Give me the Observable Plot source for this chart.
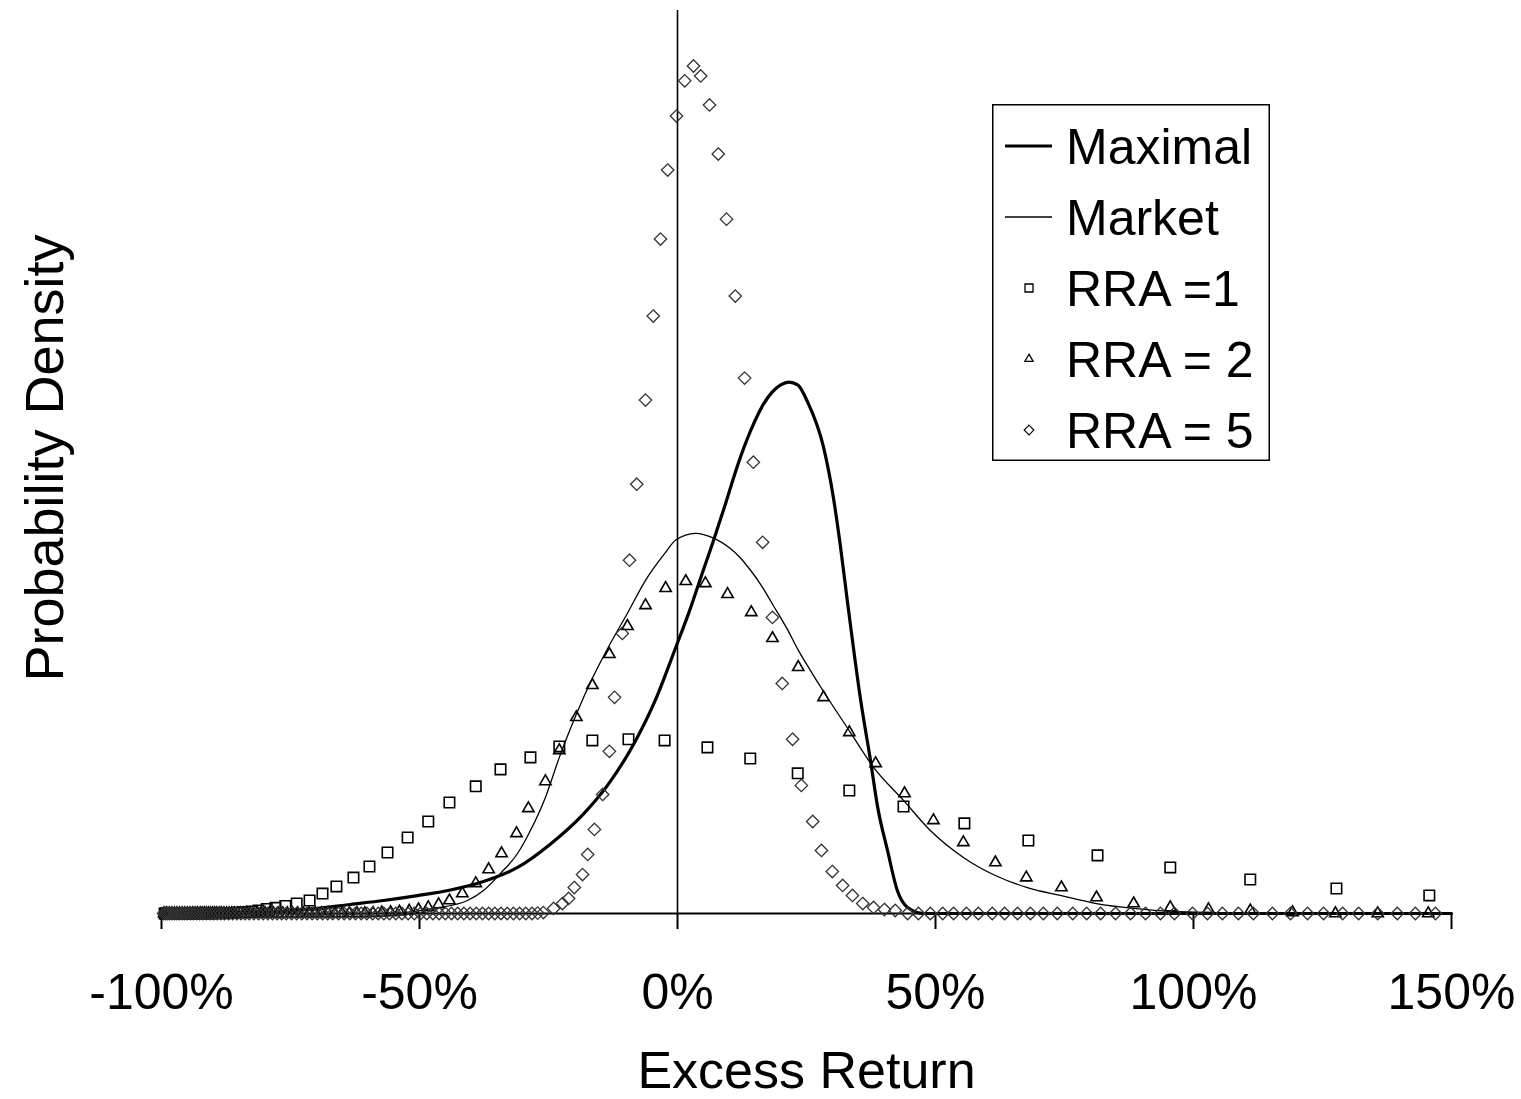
<!DOCTYPE html>
<html>
<head>
<meta charset="utf-8">
<script src="https://cdn.jsdelivr.net/npm/d3@7"></script>
<script src="https://cdn.jsdelivr.net/npm/@observablehq/plot@0.6"></script>
<style>
  html, body { margin: 0; padding: 0; background: #fff; }
  #wrap { position: relative; width: 1521px; height: 1099px; overflow: hidden; }
  #legend { position: absolute; left: 992px; top: 104px; }
</style>
</head>
<body>
<div id="wrap"></div>
<script>
// ---- Data (x = excess return in %, y = probability density) ----
const xTicks = [-100, -50, 0, 50, 100, 150];
const seriesNames = ["Maximal", "Market", "RRA =1", "RRA = 2", "RRA = 5"];
const xLabel = "Excess Return";
const yLabel = "Probability Density";

const maximal = [[-100,0],[-90,0],[-82.8,0.002],[-76.4,0.011],[-69.8,0.027],[-63.4,0.048],[-57.0,0.069],[-50.4,0.095],[-44.0,0.125],[-37.6,0.170],[-31.0,0.245],[-24.6,0.370],[-18.2,0.530],[-13.6,0.680],[-8.5,0.900],[-3.9,1.160],[-0.4,1.410],[2.5,1.622],[4.8,1.809],[7.0,1.984],[8.9,2.144],[12.2,2.426],[14.7,2.600],[16.5,2.700],[18.3,2.770],[20.0,2.810],[21.6,2.825],[23.3,2.810],[25.2,2.720],[28.3,2.479],[30.2,2.213],[31.6,1.947],[32.9,1.665],[35.5,1.133],[37.4,0.814],[38.8,0.564],[40.7,0.335],[42.6,0.122],[44.6,0.032],[47.7,0],[60,0],[100,0],[150,0]];

const market = [[-100,0],[-80,0],[-60,0],[-53.7,0.003],[-47.3,0.027],[-40.7,0.069],[-37.6,0.122],[-34.3,0.213],[-31.0,0.319],[-28.5,0.441],[-25.6,0.617],[-22.9,0.830],[-19.6,1.059],[-16.5,1.250],[-13.2,1.426],[-9.7,1.596],[-6.2,1.771],[-2.3,1.920],[-0.4,1.984],[3.5,2.021],[7.0,1.995],[10.0,1.945],[12.2,1.890],[14.0,1.830],[16.1,1.750],[18.5,1.640],[21.3,1.510],[23.4,1.400],[25.8,1.290],[28.3,1.180],[33.5,0.963],[38.0,0.777],[43.8,0.601],[49.0,0.441],[55.4,0.298],[61.6,0.202],[67.8,0.138],[74.2,0.096],[81.2,0.053],[88.4,0.027],[95.5,0.011],[111,0.002],[130,0],[150,0]];

const rra1 = [[-99.4,0],[-99.2,0],[-99,0],[-98.8,0],[-98.6,0],[-98.4,0],[-98.2,0],[-98,0],[-97.8,0],[-97.6,0],[-97.3,0],[-97,0],[-96.7,0],[-96.4,0],[-96,0],[-95.6,0],[-95.2,0],[-94.8,0],[-94.3,0],[-93.8,0],[-93.2,0],[-92.6,0],[-91.9,0],[-91.2,0],[-90.4,0],[-89.5,0.001],[-88.6,0.001],[-87.6,0.002],[-86.5,0.003],[-85.3,0.005],[-84,0.007],[-82.6,0.011],[-81.2,0.016],[-79.6,0.024],[-77.9,0.030],[-76.0,0.040],[-73.8,0.053],[-71.3,0.069],[-68.8,0.106],[-66.1,0.144],[-62.8,0.191],[-59.7,0.250],[-56.2,0.324],[-52.3,0.404],[-48.3,0.489],[-44.2,0.590],[-39.1,0.676],[-34.3,0.766],[-28.5,0.830],[-22.9,0.888],[-16.5,0.920],[-9.5,0.926],[-2.5,0.920],[5.8,0.883],[14.1,0.824],[23.3,0.745],[33.3,0.654],[43.8,0.569],[55.6,0.479],[68.0,0.388],[81.4,0.309],[95.5,0.245],[111.0,0.181],[127.7,0.133],[145.7,0.096]];

const rra2 = [[-99.5,0],[-99,0],[-98.5,0],[-98,0],[-97.5,0],[-97,0],[-96.5,0],[-96,0],[-95.5,0],[-95,0],[-94.5,0],[-94,0],[-93.5,0],[-93,0],[-92.5,0],[-92.1,0],[-91.7,0],[-91.3,0],[-90.9,0],[-90.5,0],[-90.1,0],[-89.7,0],[-89.3,0],[-88.8,0],[-88.4,0],[-87.9,0],[-87.4,0],[-86.9,0],[-86.4,0],[-85.9,0],[-85.3,0],[-84.7,0],[-84.1,0],[-83.5,0],[-82.8,0],[-82.1,0],[-81.4,0],[-80.7,0],[-79.9,0],[-79.1,0],[-78.3,0],[-77.4,0],[-76.5,0],[-75.6,0],[-74.6,0],[-73.6,0],[-72.5,0],[-71.4,0],[-70.2,0],[-69,0],[-67.7,0],[-66.4,0],[-65,0],[-63.6,0],[-62.1,0],[-60.6,0.001],[-59,0.002],[-57.3,0.004],[-55.6,0.006],[-53.9,0.009],[-52,0.014],[-50.2,0.021],[-48.3,0.032],[-46.3,0.048],[-44.2,0.069],[-41.7,0.106],[-39.1,0.160],[-36.6,0.234],[-34.1,0.319],[-31.2,0.426],[-28.9,0.559],[-25.6,0.702],[-22.9,0.867],[-19.6,1.043],[-16.5,1.213],[-13.2,1.378],[-9.7,1.527],[-6.2,1.638],[-2.3,1.729],[1.6,1.766],[5.4,1.755],[9.7,1.697],[14.3,1.601],[18.4,1.463],[23.4,1.309],[28.3,1.149],[33.3,0.963],[38.4,0.798],[44.0,0.638],[49.6,0.495],[55.4,0.378],[61.6,0.271],[67.6,0.191],[74.4,0.138],[81.2,0.085],[88.4,0.053],[95.5,0.032],[102.9,0.022],[111.0,0.015],[119.2,0.006],[127.5,0],[135.7,0],[145.5,0]];

const rra5 = [[-99.6,0],[-99.2,0],[-98.8,0],[-98.4,0],[-98,0],[-97.5,0],[-97,0],[-96.5,0],[-96,0],[-95.5,0],[-95,0],[-94.4,0],[-93.8,0],[-93.2,0],[-92.6,0],[-92,0],[-91.3,0],[-90.6,0],[-89.9,0],[-89.2,0],[-88.5,0],[-87.8,0],[-87,0],[-86.2,0],[-85.4,0],[-84.6,0],[-83.8,0],[-83,0],[-82.1,0],[-81.2,0],[-80.3,0],[-79.4,0],[-78.5,0],[-77.6,0],[-76.7,0],[-75.8,0],[-74.8,0],[-73.8,0],[-72.8,0],[-71.8,0],[-70.8,0],[-69.8,0],[-68.8,0],[-67.8,0],[-66.8,0],[-65.7,0],[-64.6,0],[-63.5,0],[-62.4,0],[-61.3,0],[-60.2,0],[-59.1,0],[-58,0],[-56.9,0],[-55.8,0],[-54.6,0],[-53.4,0],[-52.2,0],[-51,0],[-49.8,0],[-48.6,0],[-47.4,0],[-46.2,0],[-45,0],[-43.8,0],[-42.6,0],[-41.4,0],[-40.2,0],[-39,0],[-37.8,0],[-36.6,0],[-35.4,0],[-34.2,0],[-33,0],[-31.8,0],[-30.6,0],[-29.4,0],[-28.2,0],[-27.1,0.002],[-26.0,0.005],[-24.0,0.027],[-22.3,0.053],[-21.1,0.080],[-20.0,0.138],[-18.4,0.207],[-17.4,0.314],[-16.1,0.447],[-14.5,0.633],[-13.2,0.862],[-12.2,1.149],[-10.7,1.489],[-9.3,1.878],[-7.9,2.282],[-6.2,2.729],[-4.7,3.176],[-3.3,3.585],[-1.9,3.952],[-0.2,4.239],[1.4,4.426],[3.1,4.505],[4.5,4.452],[6.2,4.298],[7.9,4.037],[9.5,3.691],[11.2,3.282],[13.0,2.846],[14.7,2.399],[16.5,1.973],[18.4,1.574],[20.3,1.223],[22.3,0.926],[24.0,0.681],[26.2,0.489],[27.9,0.335],[30.0,0.223],[32.0,0.149],[33.9,0.096],[35.9,0.053],[38.0,0.032],[40.1,0.021],[42.2,0.016],[44.6,0],[46.7,0],[49.0,0],[51.4,0],[53.5,0],[56.0,0],[58.3,0],[61.0,0],[63.4,0],[65.9,0],[68.4,0],[70.9,0],[73.6,0],[76.6,0],[79.3,0],[82.0,0],[84.9,0],[87.8,0],[90.7,0],[93.6,0],[96.3,0],[99.8,0],[102.7,0],[105.6,0],[108.7,0],[111.6,0],[115.3,0],[118.8,0],[122.1,0],[125.2,0],[128.9,0],[132.0,0],[135.7,0],[139.5,0],[143.0,0],[146.9,0]];

// ---- Chart ----
const FONT = "'Liberation Sans', Arial, Helvetica, sans-serif";
const px = d => d[0], py = d => d[1];

const chart = Plot.plot({
  width: 1521,
  height: 1099,
  marginLeft: 161,
  marginRight: 70,
  marginTop: 10,
  marginBottom: 186,
  x: {domain: [-100, 150]},
  y: {domain: [0, 4.8], axis: null},
  style: {fontFamily: FONT, background: "#fff", color: "#000", overflow: "visible"},
  marks: [
    Plot.ruleX([0], {stroke: "#000", strokeWidth: 1.6}),
    Plot.ruleY([0], {stroke: "#000", strokeWidth: 2}),
    Plot.axisX({ticks: xTicks, tickFormat: d => d + "%", tickSize: 16, tickPadding: 44,
      fontSize: 50, label: null, stroke: "#000", strokeWidth: 2, fill: "#000"}),
    Plot.line(market, {x: px, y: py, stroke: "#000", strokeWidth: 1.3, curve: "monotone-x"}),
    Plot.line(maximal, {x: px, y: py, stroke: "#000", strokeWidth: 3.2, curve: "monotone-x"}),
    Plot.dot(rra1, {x: px, y: py, symbol: "square", r: 5.9, fill: "none", stroke: "#000", strokeWidth: 1.6}),
    Plot.dot(rra2, {x: px, y: py, symbol: "triangle", r: 4.2, fill: "none", stroke: "#000", strokeWidth: 1.6}),
    Plot.dot(rra5, {x: px, y: py, symbol: "diamond2", r: 5.6, fill: "none", stroke: "#333", strokeWidth: 1.3}),
    Plot.text([xLabel], {frameAnchor: "bottom", lineAnchor: "bottom", dy: 174, fontSize: 52, fill: "#000"}),
    Plot.text([yLabel], {frameAnchor: "left", rotate: -90, textAnchor: "middle", lineAnchor: "bottom", dx: -99, dy: -4, fontSize: 54, fill: "#000"})
  ]
});

const wrap = document.getElementById("wrap");
wrap.appendChild(chart);

// ---- Legend (boxed, top right) ----
const LW = 278, LH = 357, rowH = 71, row0 = 42;
const leg = d3.create("svg")
  .attr("id", "legend")
  .attr("width", LW).attr("height", LH)
  .style("font-family", FONT);
leg.append("rect").attr("x", 0.75).attr("y", 0.75).attr("width", LW - 1.5).attr("height", LH - 1.5)
  .attr("fill", "#fff").attr("stroke", "#000").attr("stroke-width", 1.5);

const legendKinds = [
  {type: "line", w: 3.2},
  {type: "line", w: 1.3},
  {type: "sym", sym: d3.symbolSquare, size: 64, sw: 1.3},
  {type: "sym", sym: d3.symbolTriangle, size: 30, sw: 1.3},
  {type: "sym", sym: d3.symbolDiamond2, size: 60, sw: 1.1}
];
seriesNames.forEach((name, i) => {
  const cy = row0 + i * rowH;
  const k = legendKinds[i];
  if (k.type === "line") {
    leg.append("line").attr("x1", 13).attr("x2", 60).attr("y1", cy).attr("y2", cy)
      .attr("stroke", "#000").attr("stroke-width", k.w);
  } else {
    leg.append("path").attr("transform", `translate(37,${cy})`)
      .attr("d", d3.symbol(k.sym, k.size)())
      .attr("fill", "none").attr("stroke", "#000").attr("stroke-width", k.sw);
  }
  leg.append("text").attr("x", 74).attr("y", cy + 18).attr("font-size", 50)
    .attr("fill", "#000").text(name);
});
wrap.appendChild(leg.node());
</script>
</body>
</html>
